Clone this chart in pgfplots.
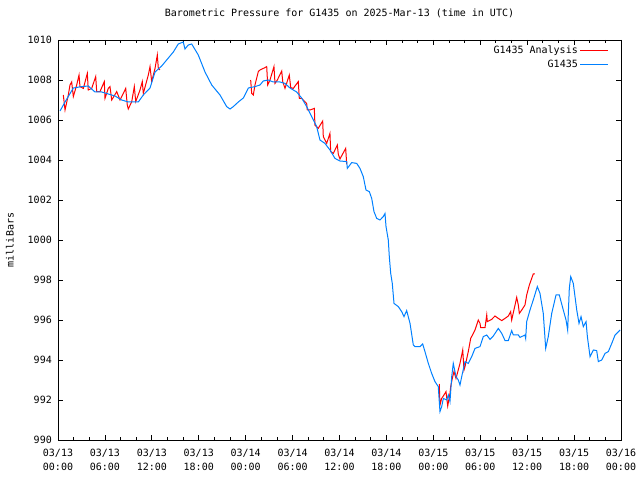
\documentclass[border=0pt]{standalone}
\usepackage{fontspec}
\setmainfont{DejaVu Sans Mono}
\usepackage{pgfplots}
\pgfplotsset{compat=1.18}
\definecolor{gred}{RGB}{255,0,0}
\definecolor{gblue}{RGB}{0,128,255}
\newcommand{\gf}{\fontsize{10bp}{12bp}\selectfont}
\newcommand{\gfx}{\fontsize{10bp}{14bp}\selectfont}
\begin{document}
\begin{tikzpicture}
\useasboundingbox (0,0) rectangle (640bp,480bp);
\begin{axis}[
  at={(58bp,40bp)}, anchor=south west,
  scale only axis, width=563bp, height=400bp,
  xmin=0, xmax=72, ymin=990, ymax=1010,
  xtick={0,6,...,72},
  xticklabels={03/13\\00:00,03/13\\06:00,03/13\\12:00,03/13\\18:00,03/14\\00:00,03/14\\06:00,03/14\\12:00,03/14\\18:00,03/15\\00:00,03/15\\06:00,03/15\\12:00,03/15\\18:00,03/16\\00:00},
  minor x tick num=2,
  ytick={990,992,...,1010},
  /pgf/number format/assume math mode=true,
  /pgf/number format/1000 sep={},
  tick align=inside,
  major tick length=5bp, minor tick length=3bp,
  tick style={black, line width=0.8bp},
  axis line style={black, line width=0.8bp},
  xticklabel style={font=\gfx, align=center, inner sep=0pt, yshift=-9bp},
  yticklabel style={font=\gf, inner sep=0pt, xshift=-6bp},
  title={Barometric Pressure for G1435 on 2025-Mar-13 (time in UTC)},
  title style={font=\gf, at={(0.5,1)}, anchor=center, yshift=21bp},
  ylabel={milliBars},
  ylabel style={font=\gf, at={(axis description cs:-0.0853,0.5)}, anchor=center},
  legend style={font=\gf, draw=none, fill=none, at={(1,1)}, anchor=north east, xshift=-9bp, yshift=-2bp, row sep=0.5bp},
  legend cell align=right,
  legend plot pos=right,
  legend image code/.code={\draw[#1] (0bp,0bp) -- (28bp,0bp);},
  unbounded coords=jump,
]
\addplot[color=gred, line width=1bp, mark=none] coordinates {
(0.68,1007.25)(0.90,1006.5)(1.32,1007.25)(1.53,1007.75)(1.75,1007.9)(1.96,1007.17)(2.39,1007.75)(2.69,1008.25)(2.81,1007.67)(3.24,1007.58)(3.75,1008.33)(3.87,1007.5)(4.31,1007.58)(4.82,1008.17)(4.95,1007.42)(5.37,1007.42)(5.92,1007.92)(6.01,1007.08)(6.43,1007.58)(6.65,1007.67)(6.87,1007.0)(7.51,1007.42)(7.93,1007.0)(8.35,1007.33)(8.66,1007.58)(8.86,1006.75)(8.99,1006.55)(9.43,1006.92)(9.76,1007.67)(9.94,1006.92)(10.49,1007.5)(10.78,1007.92)(10.91,1007.33)(11.55,1008.25)(11.77,1008.67)(11.98,1007.92)(12.41,1008.58)(12.70,1009.25)(12.83,1008.58)(13.04,1008.5)
(18,nan)
(24.64,1008.0)(24.77,1007.33)(24.98,1007.25)(25.19,1007.75)(25.62,1008.42)(25.83,1008.5)(26.47,1008.62)(26.69,1008.67)(26.82,1007.75)(27.11,1008.0)(27.62,1008.67)(27.75,1007.83)(28.05,1008.0)(28.61,1008.45)(28.74,1007.92)(29.03,1007.58)(29.58,1008.25)(29.76,1007.62)(30.09,1007.58)(30.73,1007.92)(30.86,1007.08)(31.16,1007.08)(31.80,1006.83)(31.88,1006.5)(32.23,1006.5)(32.78,1006.58)(32.86,1005.75)(33.28,1005.58)(33.85,1005.95)(33.93,1005.17)(34.36,1004.83)(34.78,1005.33)(34.87,1004.42)(35.21,1004.33)(35.72,1004.75)(35.85,1004.28)(36.06,1004.05)(36.79,1004.58)(36.92,1003.8)
(42,nan)
(48.76,992.8)(48.85,991.75)(49.07,992.08)(49.49,992.33)(49.62,992.42)(49.84,991.7)(50.13,992.33)(50.22,992.67)(50.48,993.17)(50.64,993.42)(50.90,993.08)(51.07,993.33)(51.41,993.83)(51.76,994.5)(51.92,993.5)(52.05,993.67)(52.47,994.42)(52.78,995.08)(53.33,995.5)(53.75,996.0)(53.97,995.83)(54.06,995.62)(54.61,995.62)(54.83,996.25)(54.90,995.92)(55.46,996.03)(55.88,996.2)(56.31,996.08)(56.75,995.97)(57.17,996.08)(57.59,996.2)(57.89,996.42)(58.02,996.0)(58.45,996.75)(58.66,997.13)(58.87,996.75)(59.00,996.33)(59.31,996.5)(59.72,996.75)(59.94,997.25)(60.28,997.75)(60.58,998.08)(60.78,998.3)(61.00,998.3)
};
\addlegendentry{G1435 Analysis}
\addplot[color=gblue, line width=1bp, mark=none] coordinates {
(0.26,1006.45)(0.90,1006.9)(1.96,1007.6)(3.03,1007.67)(3.87,1007.7)(4.73,1007.4)(5.59,1007.4)(6.43,1007.3)(7.29,1007.2)(8.15,1007.0)(8.99,1006.9)(10.27,1006.9)(10.91,1007.25)(11.77,1007.6)(12.41,1008.4)(13.26,1008.7)(14.11,1009.1)(14.75,1009.4)(15.38,1009.8)(16.02,1009.9)(16.24,1009.55)(16.66,1009.75)(17.10,1009.8)(17.94,1009.25)(18.80,1008.4)(19.66,1007.75)(20.08,1007.55)(20.72,1007.25)(21.57,1006.67)(22.00,1006.55)(22.42,1006.67)(23.06,1006.9)(23.70,1007.1)(24.34,1007.6)(25.19,1007.67)(25.83,1007.75)(26.25,1007.95)(26.89,1008.0)(27.53,1007.9)(28.39,1007.9)(29.03,1007.83)(29.67,1007.6)(30.52,1007.4)(31.16,1007.1)(31.80,1006.67)(32.44,1006.17)(33.08,1005.67)(33.50,1005.0)(34.14,1004.83)(34.78,1004.5)(35.42,1004.08)(36.06,1003.95)(36.92,1003.92)(37.00,1003.58)(37.56,1003.87)(38.20,1003.83)(38.62,1003.58)(39.04,1003.17)(39.39,1002.5)(39.81,1002.42)(40.12,1002.08)(40.41,1001.42)(40.76,1001.08)(41.18,1001.0)(41.60,1001.17)(41.82,1001.33)(41.95,1000.67)(42.24,1000.0)(42.37,999.17)(42.55,998.33)(42.75,997.83)(42.97,996.83)(43.52,996.67)(43.95,996.42)(44.25,996.17)(44.59,996.47)(45.02,995.83)(45.44,994.75)(45.66,994.67)(46.30,994.67)(46.64,994.8)(46.93,994.42)(47.36,993.83)(47.79,993.33)(48.21,992.92)(48.63,992.67)(48.85,991.42)(49.07,991.67)(49.28,992.08)(49.71,992.0)(49.92,992.25)(50.13,991.92)(50.35,993.17)(50.55,993.83)(50.90,993.17)(51.19,993.0)(51.41,992.75)(51.63,993.17)(52.05,993.92)(52.47,993.83)(52.91,994.17)(53.33,994.58)(53.97,994.67)(54.39,995.17)(54.83,995.25)(55.25,995.03)(55.67,995.2)(56.31,995.58)(56.75,995.33)(57.17,994.97)(57.59,994.97)(58.02,995.47)(58.23,995.25)(58.87,995.25)(59.08,995.13)(59.72,995.25)(59.81,995.08)(59.94,995.92)(60.36,996.5)(60.78,997.0)(61.30,997.67)(61.64,997.33)(62.06,996.33)(62.37,994.58)(62.70,995.17)(63.14,996.33)(63.69,997.25)(64.11,997.25)(64.62,996.5)(64.97,996.0)(65.18,995.5)(65.39,997.58)(65.57,998.17)(65.90,997.83)(66.34,996.5)(66.63,995.83)(66.89,996.17)(67.18,995.67)(67.53,995.92)(67.70,995.17)(68.04,994.17)(68.47,994.5)(68.89,994.47)(69.10,993.92)(69.53,994.0)(69.96,994.33)(70.38,994.42)(70.82,994.83)(71.24,995.25)(71.88,995.5)
};
\addlegendentry{G1435}
\end{axis}
\end{tikzpicture}
\end{document}
